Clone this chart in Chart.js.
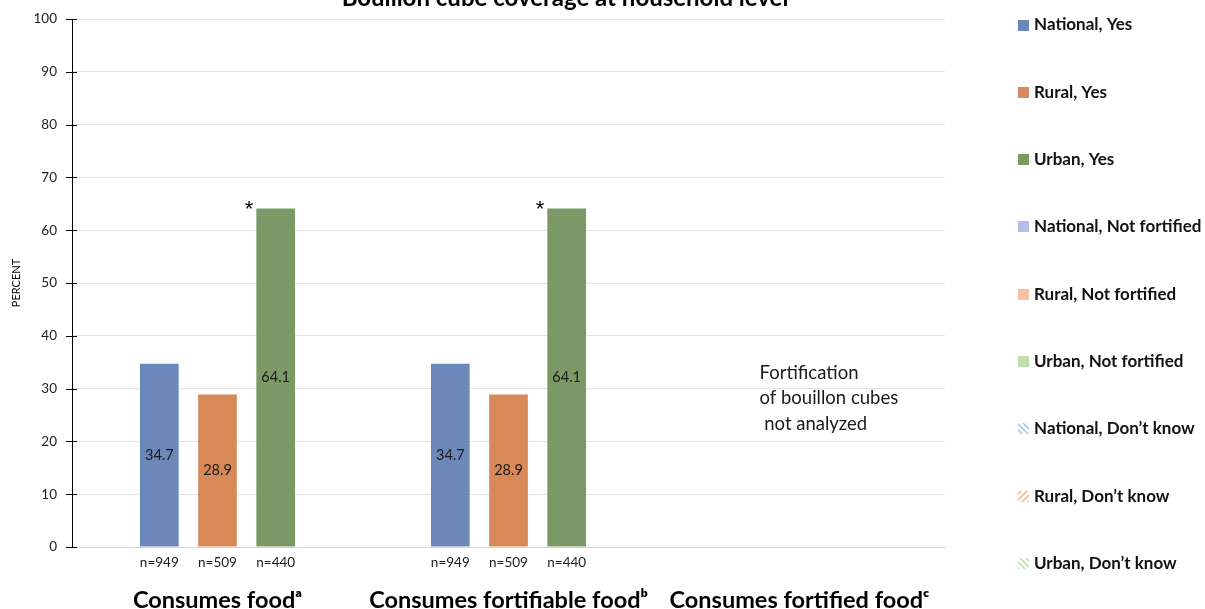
<!DOCTYPE html>
<html>
<head>
<meta charset="utf-8">
<script src="https://cdn.jsdelivr.net/npm/chart.js@4.4.1/dist/chart.umd.min.js"></script>
<style>
  html, body { margin: 0; padding: 0; background: #fff; }
  #wrap { width: 1205px; height: 609px; position: relative; }
</style>
</head>
<body>
<div id="wrap"><canvas id="c"></canvas></div>
<script>
// ---------- DATA ----------
const categories = ['Consumes food\u1D43', 'Consumes fortifiable food\u1D47', 'Consumes fortified food\u1D9C'];
const yTicks = [0, 10, 20, 30, 40, 50, 60, 70, 80, 90, 100];

const nationalYes = [34.7, 34.7, null];
const ruralYes = [28.9, 28.9, null];
const urbanYes = [64.1, 64.1, null];
const nationalNotFortified = [null, null, null];
const ruralNotFortified = [null, null, null];
const urbanNotFortified = [null, null, null];
const nationalDontKnow = [null, null, null];
const ruralDontKnow = [null, null, null];
const urbanDontKnow = [null, null, null];

const sampleNational = ['n=949', 'n=949', ''];
const sampleRural = ['n=509', 'n=509', ''];
const sampleUrban = ['n=440', 'n=440', ''];
const urbanSignificance = ['*', '*', ''];
const noteCategory = 2;
const noteValue = 33;
const noteLines = ['Fortification', 'of bouillon cubes', ' not analyzed'];
const chartTitle = 'Bouillon cube coverage at household level';
const yTitle = 'PERCENT';

// ---------- STYLE ----------
const FONT = 'Lato, "Open Sans", sans-serif';
const C_NAT = '#6C88B9', C_RUR = '#D78A58', C_URB = '#7A9967';
const C_NAT_L = '#AEC2E6', C_RUR_L = '#F4C2A2', C_URB_L = '#C3DDB1';

function hatch(color, dir) {
  const s = 6;
  const cv = document.createElement('canvas');
  cv.width = s; cv.height = s;
  const g = cv.getContext('2d');
  g.strokeStyle = color; g.lineWidth = 1.3;
  g.beginPath();
  if (dir > 0) { g.moveTo(0, 0); g.lineTo(s, s); g.moveTo(-s/2, s/2); g.lineTo(s/2, s*1.5); g.moveTo(s/2, -s/2); g.lineTo(s*1.5, s/2); }
  else { g.moveTo(s, 0); g.lineTo(0, s); g.moveTo(s*1.5, s/2); g.lineTo(s/2, s*1.5); g.moveTo(s/2, -s/2); g.lineTo(-s/2, s/2); }
  g.stroke();
  return g.createPattern(cv, 'repeat');
}

const ctx = document.getElementById('c').getContext('2d');

const datasets = [
  { label: 'National, Yes', data: nationalYes, backgroundColor: C_NAT, stack: 'National', samples: sampleNational },
  { label: 'Rural, Yes', data: ruralYes, backgroundColor: C_RUR, stack: 'Rural', samples: sampleRural },
  { label: 'Urban, Yes', data: urbanYes, backgroundColor: C_URB, stack: 'Urban', samples: sampleUrban, marks: urbanSignificance },
  { label: 'National, Not fortified', data: nationalNotFortified, backgroundColor: C_NAT_L, stack: 'National' },
  { label: 'Rural, Not fortified', data: ruralNotFortified, backgroundColor: C_RUR_L, stack: 'Rural' },
  { label: 'Urban, Not fortified', data: urbanNotFortified, backgroundColor: C_URB_L, stack: 'Urban' },
  { label: 'National, Don\u2019t know', data: nationalDontKnow, backgroundColor: hatch('#9DBBE3', 1), stack: 'National' },
  { label: 'Rural, Don\u2019t know', data: ruralDontKnow, backgroundColor: hatch('#F1A982', -1), stack: 'Rural' },
  { label: 'Urban, Don\u2019t know', data: urbanDontKnow, backgroundColor: hatch('#B5D6A3', 1), stack: 'Urban' }
].map(d => Object.assign({ categoryPercentage: 0.6, barPercentage: 0.665, borderWidth: 0 }, d));

const annotate = {
  id: 'annotate',
  afterDatasetsDraw(chart) {
    const c = chart.ctx;
    const xs = chart.scales.x, ys = chart.scales.y;
    c.save();
    // inner half of y tick marks
    c.strokeStyle = '#000'; c.lineWidth = 1;
    yTicks.forEach(v => {
      const y = Math.round(ys.getPixelForValue(v)) + 0.5;
      c.beginPath(); c.moveTo(xs.left - 6, y); c.lineTo(xs.left + 5, y); c.stroke();
    });
    chart.data.datasets.forEach((ds, di) => {
      const meta = chart.getDatasetMeta(di);
      meta.data.forEach((bar, i) => {
        const v = ds.data[i];
        if (v != null) {
          c.fillStyle = '#1a1a1a';
          c.font = '14.5px ' + FONT;
          c.textAlign = 'center'; c.textBaseline = 'middle';
          c.fillText(v.toFixed(1), bar.x, (bar.y + bar.base) / 2);
        }
        if (ds.samples && ds.samples[i]) {
          c.fillStyle = '#1a1a1a';
          c.font = '13.5px ' + FONT;
          c.textAlign = 'center'; c.textBaseline = 'middle';
          c.fillText(ds.samples[i], bar.x, xs.top + 16);
        }
        if (ds.marks && ds.marks[i] && v != null) {
          c.fillStyle = '#000';
          c.font = '22px "Liberation Sans", sans-serif';
          c.textAlign = 'right'; c.textBaseline = 'alphabetic';
          c.fillText(ds.marks[i], bar.x - bar.width / 2 - 3, bar.y + 7);
        }
      });
    });
    // note text
    c.fillStyle = '#1a1a1a';
    c.font = '18.5px ' + FONT;
    c.textAlign = 'left'; c.textBaseline = 'middle';
    const nx = xs.getPixelForValue(noteCategory) - 40;
    const ny = ys.getPixelForValue(noteValue);
    noteLines.forEach((t, k) => c.fillText(t, nx, ny + k * 25.5));
    c.restore();
  },
  afterDraw(chart) {
    const c = chart.ctx;
    c.save();
    // title (partly cut off at the top, as in the reference)
    c.fillStyle = '#000';
    c.font = 'bold 24px ' + FONT;
    c.textAlign = 'center'; c.textBaseline = 'alphabetic';
    c.fillText(chartTitle, 565, 6);
    // legend
    c.font = 'bold 17px ' + FONT;
    c.textAlign = 'left'; c.textBaseline = 'middle';
    chart.data.datasets.forEach((ds, i) => {
      const y = 25 + i * 67.3;
      c.fillStyle = ds.backgroundColor;
      c.fillRect(1018, Math.round(y - 5.5), 11, 11);
      c.fillStyle = '#111';
      c.fillText(ds.label, 1034, y);
    });
    c.restore();
  }
};

new Chart(ctx, {
  type: 'bar',
  data: { labels: categories, datasets },
  plugins: [annotate],
  options: {
    responsive: true,
    maintainAspectRatio: false,
    animation: false,
    layout: { padding: { top: 19, right: 260, left: 0, bottom: 0 } },
    plugins: { legend: { display: false }, tooltip: { enabled: false }, title: { display: false } },
    scales: {
      x: {
        stacked: true,
        grid: { display: false, drawTicks: false },
        border: { display: true, color: '#d9d9d9', width: 1 },
        ticks: { color: '#000', font: { family: FONT, size: 23.5, weight: 'bold' }, padding: 39, maxRotation: 0, autoSkip: false },
        afterFit(s) { s.height = 62; s.paddingLeft = 0; s.paddingRight = 0; }
      },
      y: {
        stacked: true,
        min: 0, max: 100,
        afterBuildTicks(s) { s.ticks = yTicks.map(v => ({ value: v })); },
        grid: { color: '#e3e3e3', lineWidth: 1, drawTicks: false },
        border: { display: true, color: '#000', width: 1 },
        ticks: { color: '#222', font: { family: FONT, size: 13.5 }, padding: 15 },
        title: { display: true, text: yTitle, color: '#000', font: { family: FONT, size: 11 }, padding: { top: 10, bottom: 0 } },
        afterFit(s) { s.width = 72; s.paddingTop = 0; s.paddingBottom = 0; }
      }
    }
  }
});
</script>
</body>
</html>
